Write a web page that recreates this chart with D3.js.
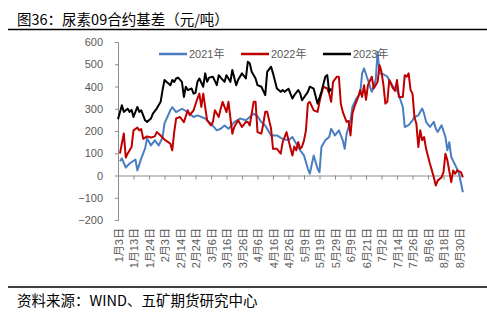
<!DOCTYPE html>
<html>
<head>
<meta charset="utf-8">
<script src="https://cdn.jsdelivr.net/npm/d3@7"></script>
<style>
  body { margin: 0; background: #fff; }
  svg { display: block; }
  text { font-family: "Liberation Sans", "Noto Sans CJK SC", sans-serif; }
  .cjk { font-family: "Noto Sans CJK SC", sans-serif; }
</style>
</head>
<body>
<div id="chart"></div>
<script>
'use strict';

// x = trading-day index since 1月3日, one axis label every 8 trading days
var dateLabels = ['1月3日', '1月13日', '1月24日', '2月3日', '2月14日', '2月24日', '3月6日', '3月16日',
  '3月26日', '4月6日', '4月16日', '4月26日', '5月9日', '5月19日', '5月29日', '6月9日', '6月21日',
  '7月2日', '7月14日', '7月26日', '8月6日', '8月18日', '8月30日'];
var labelStep = 8;
var yTicks = [-200, -100, 0, 100, 200, 300, 400, 500, 600];
var seriesNames = ['2021年', '2022年', '2023年'];
var seriesColors = ['#4a7ec2', '#c00000', '#000000'];

var basis2021 = [[1, 64], [2, 77], [4, 36], [6, 54], [9, 72], [10, 23], [12, 77], [14, 122], [15, 167],
  [17, 135], [19, 158], [21, 135], [23, 171], [24, 234], [27, 293], [28, 307], [30, 285], [33, 300],
  [36, 285], [39, 263], [41, 270], [45, 256], [48, 233], [51, 203], [53, 210], [55, 225], [57, 210],
  [60, 240], [63, 256], [66, 248], [70, 278], [72, 266], [74, 240], [76, 225], [77, 210], [79, 180],
  [82, 180], [85, 165], [88, 158], [90, 173], [92, 143], [94, 113], [96, 90], [98, 30], [99, 8],
  [101, 90], [103, 30], [104, 15], [105, 128], [107, 158], [109, 173], [110, 210], [112, 180],
  [114, 203], [116, 158], [117, 120], [118, 188], [120, 248], [121, 308], [123, 346], [125, 368],
  [126, 459], [127, 481], [129, 429], [131, 376], [133, 429], [134, 556], [135, 459], [137, 455],
  [139, 444], [140, 429], [142, 399], [144, 384], [145, 361], [147, 308], [148, 218], [150, 226],
  [152, 248], [153, 263], [155, 270], [156, 286], [157, 301], [158, 278], [159, 241], [161, 218],
  [163, 241], [164, 211], [165, 196], [167, 226], [169, 173], [170, 113], [171, 150], [172, 83],
  [175, 30], [176, 8], [178, -75]];

var basis2022 = [[1, 99], [3, 189], [4, 81], [5, 99], [7, 128], [8, 203], [10, 215], [11, 203],
  [12, 209], [13, 165], [15, 176], [17, 171], [19, 176], [20, 195], [22, 180], [24, 161], [27, 143],
  [28, 113], [29, 195], [30, 256], [32, 263], [34, 240], [36, 293], [37, 271], [39, 293], [41, 346],
  [42, 368], [43, 308], [44, 368], [45, 308], [46, 248], [48, 225], [49, 241], [50, 293], [52, 263],
  [53, 300], [54, 331], [56, 285], [57, 331], [59, 188], [60, 218], [62, 248], [64, 218], [66, 241],
  [67, 241], [68, 225], [70, 331], [71, 331], [72, 195], [74, 188], [75, 233], [76, 286], [77, 286],
  [79, 211], [80, 120], [82, 120], [84, 98], [85, 150], [87, 195], [88, 158], [90, 90], [91, 130],
  [92, 113], [93, 150], [94, 120], [95, 130], [96, 158], [97, 203], [98, 323], [99, 331], [101, 293],
  [103, 286], [104, 330], [105, 368], [106, 399], [108, 391], [109, 368], [110, 331], [111, 421],
  [113, 444], [114, 444], [115, 323], [116, 286], [118, 241], [119, 245], [120, 180], [121, 278],
  [122, 308], [124, 353], [125, 384], [126, 353], [127, 406], [128, 340], [129, 406], [131, 444],
  [132, 391], [134, 421], [135, 496], [136, 466], [137, 406], [138, 323], [139, 331], [140, 429],
  [142, 391], [143, 380], [144, 429], [145, 353], [147, 353], [148, 451], [149, 444], [150, 459],
  [151, 384], [152, 368], [153, 263], [154, 233], [155, 128], [156, 203], [157, 158], [158, 173],
  [159, 120], [161, 53], [162, 23], [163, -8], [164, -45], [165, -23], [167, -8], [168, 15],
  [169, 98], [170, 68], [172, -30], [173, 23], [174, 8], [175, 23], [177, 15], [178, -8]];

var basis2023 = [[0, 253], [2, 316], [3, 286], [5, 300], [6, 286], [7, 295], [8, 263], [10, 308],
  [11, 286], [12, 293], [14, 248], [15, 241], [17, 256], [18, 278], [20, 301], [22, 331], [23, 384],
  [24, 429], [26, 414], [27, 405], [28, 429], [29, 420], [30, 436], [31, 440], [33, 421], [34, 353],
  [35, 399], [36, 384], [38, 391], [39, 368], [40, 372], [41, 421], [42, 436], [44, 399], [45, 459],
  [46, 421], [47, 440], [49, 444], [51, 406], [52, 451], [53, 440], [55, 421], [56, 451], [58, 421],
  [59, 474], [61, 406], [62, 430], [64, 459], [66, 436], [67, 511], [68, 504], [69, 466], [71, 436],
  [72, 406], [74, 399], [76, 361], [77, 466], [79, 489], [80, 459], [82, 391], [84, 376], [85, 384],
  [86, 376], [88, 390], [90, 346], [91, 361], [93, 384], [94, 370], [95, 338], [98, 376], [99, 399],
  [101, 390], [103, 323], [104, 350], [105, 376], [107, 444], [108, 451], [109, 376], [110, 391]];

var allSeries = [basis2021, basis2022, basis2023];

var width = 487, height = 321;
var svg = d3.select('#chart').append('svg')
    .attr('width', width)
    .attr('height', height);

var x = d3.scaleLinear()
    .domain([0, (dateLabels.length - 1) * labelStep])
    .range([118, 459]);
var y = d3.scaleLinear()
    .domain([-200, 600])
    .range([220, 42]);

// title + rules
svg.append('text')
    .attr('class', 'cjk')
    .attr('x', 17)
    .attr('y', 25)
    .style('font-size', '14.5px')
    .attr('fill', '#000')
    .text('图36：尿素09合约基差（元/吨）');
svg.append('line')
    .attr('x1', 8).attr('x2', 487)
    .attr('y1', 29.5).attr('y2', 29.5)
    .attr('stroke', '#000').attr('stroke-width', 1.5);
svg.append('line')
    .attr('x1', 8).attr('x2', 487)
    .attr('y1', 287).attr('y2', 287)
    .attr('stroke', '#000').attr('stroke-width', 1.5);
svg.append('text')
    .attr('class', 'cjk')
    .attr('x', 17)
    .attr('y', 306)
    .style('font-size', '14.5px')
    .attr('fill', '#000')
    .text('资料来源：WIND、五矿期货研究中心');

// y axis
var yAxis = d3.axisLeft(y)
    .tickValues(yTicks)
    .tickSize(3)
    .tickPadding(12)
    .tickFormat(function(d) { return d < 0 ? '\u2212' + Math.abs(d) : d; });
var gy = svg.append('g')
    .attr('transform', 'translate(' + x(0) + ',0)')
    .call(yAxis);
gy.select('.domain').attr('stroke', '#8c8c8c');
gy.selectAll('.tick line').attr('stroke', '#8c8c8c');
gy.selectAll('.tick text')
    .attr('fill', '#595959')
    .style('font-size', '11px');

// x axis on the zero line
var xAxis = d3.axisBottom(x)
    .tickValues(dateLabels.map(function(d, i) { return i * labelStep; }))
    .tickSize(4)
    .tickSizeOuter(0)
    .tickFormat('');
var gx = svg.append('g')
    .attr('transform', 'translate(0,' + y(0) + ')')
    .call(xAxis);
gx.select('.domain')
    .attr('d', 'M' + x(0) + ',0.5H' + x(178))
    .attr('stroke', '#8c8c8c');
gx.selectAll('.tick line').attr('stroke', '#8c8c8c');

// rotated date labels below the plot
svg.append('g')
    .selectAll('text')
    .data(dateLabels)
    .enter().append('text')
    .attr('transform', function(d, i) {
      return 'translate(' + (x(i * labelStep) + 1) + ',228) rotate(-90)';
    })
    .attr('text-anchor', 'end')
    .attr('dy', '0.35em')
    .attr('fill', '#595959')
    .style('font-size', '11px')
    .text(function(d) { return d; });

// lines
var line = d3.line()
    .x(function(d) { return x(d[0]); })
    .y(function(d) { return y(d[1]); });

svg.append('g')
    .selectAll('path')
    .data(allSeries)
    .enter().append('path')
    .attr('d', line)
    .attr('fill', 'none')
    .attr('stroke', function(d, i) { return seriesColors[i]; })
    .attr('stroke-width', 2)
    .attr('stroke-linejoin', 'round');

// legend
var legendX = [159, 241, 323];
var legend = svg.append('g')
    .selectAll('g')
    .data(seriesNames)
    .enter().append('g')
    .attr('transform', function(d, i) { return 'translate(' + legendX[i] + ',54)'; });
legend.append('line')
    .attr('x1', 0).attr('x2', 28)
    .attr('stroke', function(d, i) { return seriesColors[i]; })
    .attr('stroke-width', 2.5);
legend.append('text')
    .attr('x', 30)
    .attr('dy', '0.35em')
    .attr('fill', '#595959')
    .style('font-size', '11px')
    .text(function(d) { return d; });
</script>
</body>
</html>
